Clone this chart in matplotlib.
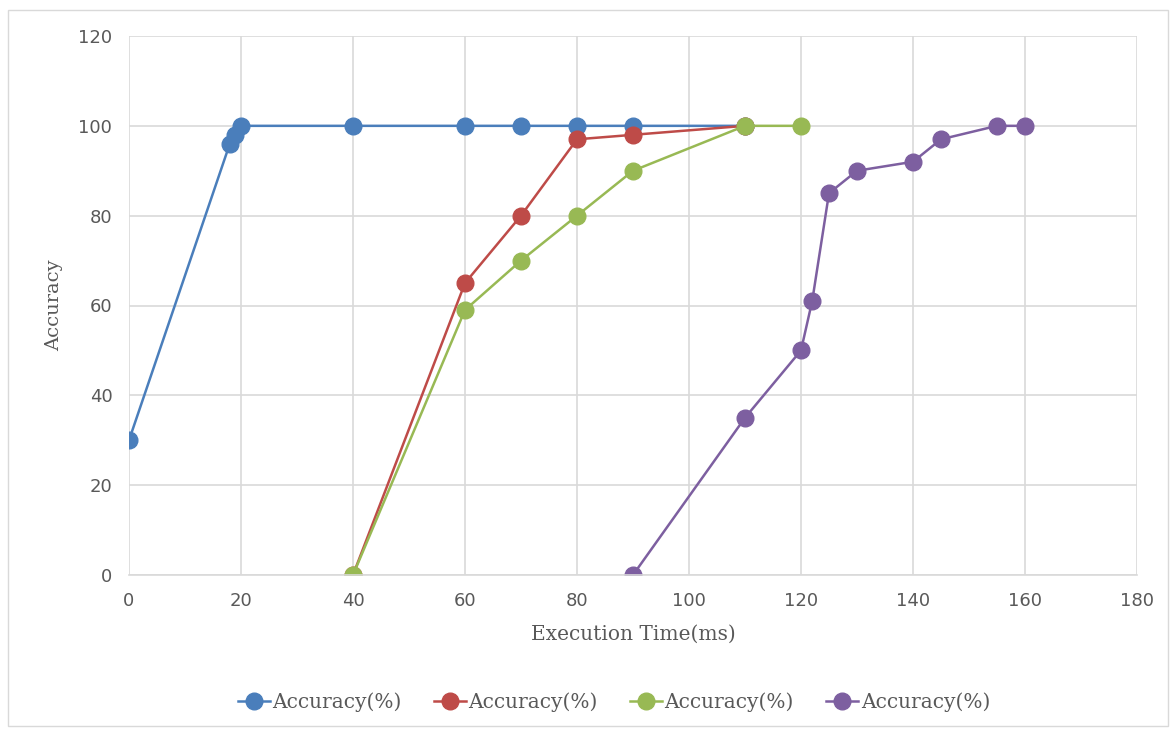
import matplotlib.pyplot as plt
from matplotlib.patches import Rectangle

# ------------------------------------------------------------
# data: execution time (ms) vs accuracy for four runs
# ------------------------------------------------------------

blue_x = [0, 18, 19, 20, 40, 60, 70, 80, 90, 110]
blue_y = [30, 96, 98, 100, 100, 100, 100, 100, 100, 100]

red_x = [40, 60, 70, 80, 90, 110]
red_y = [0, 65, 80, 97, 98, 100]

green_x = [40, 60, 70, 80, 90, 110, 120]
green_y = [0, 59, 70, 80, 90, 100, 100]

purple_x = [90, 110, 120, 122, 125, 130, 140, 145, 155, 160]
purple_y = [0, 35, 50, 61, 85, 90, 92, 97, 100, 100]

series = [
    (blue_x, blue_y, "#4a7ebb"),
    (red_x, red_y, "#be4b48"),
    (green_x, green_y, "#98b954"),
    (purple_x, purple_y, "#7d5fa0"),
]

x_ticks = list(range(0, 181, 20))
y_ticks = list(range(0, 121, 20))

TICK_COLOR = "#595959"
GRID_COLOR = "#d9d9d9"
SERIF = ["DejaVu Serif"]

fig = plt.figure(figsize=(11.76, 7.32), dpi=100)

# outer chart frame
fig.patches.append(
    Rectangle(
        (0.007, 0.008), 0.986, 0.978,
        transform=fig.transFigure,
        fill=False,
        edgecolor="#d9d9d9",
        linewidth=1.0,
    )
)

ax = fig.add_axes([129 / 1176, 1 - 575 / 732, 1008 / 1176, 539 / 732])

for xs, ys, color in series:
    ax.plot(
        xs, ys,
        color=color,
        linewidth=1.8,
        marker="o",
        markersize=12,
        label="Accuracy(%)",
    )

ax.set_xlim(0, 180)
ax.set_ylim(0, 120)
ax.set_xticks(x_ticks)
ax.set_yticks(y_ticks)
ax.grid(color=GRID_COLOR, linewidth=1.2)
ax.set_axisbelow(True)

for side in ["top", "right", "left"]:
    ax.spines[side].set_visible(False)
ax.spines["bottom"].set_color(GRID_COLOR)
ax.spines["bottom"].set_linewidth(1.2)

ax.tick_params(
    axis="both",
    length=0,
    labelsize=13,
    labelcolor=TICK_COLOR,
    pad=12,
)
for lbl in ax.get_xticklabels() + ax.get_yticklabels():
    lbl.set_clip_on(False)

ax.set_xlabel(
    "Execution Time(ms)",
    fontsize=14.5,
    color=TICK_COLOR,
    family=SERIF,
    labelpad=11,
)
ax.set_ylabel(
    "Accuracy",
    fontsize=14,
    color=TICK_COLOR,
    family=SERIF,
    labelpad=11,
)

fig.legend(
    loc="center",
    bbox_to_anchor=(0.522, 1 - 702 / 732),
    ncol=4,
    frameon=False,
    prop={"family": SERIF, "size": 14.5},
    labelcolor=TICK_COLOR,
    handlelength=1.6,
    handletextpad=0.12,
    columnspacing=1.6,
    markerscale=1.0,
)

fig.savefig("out.png", dpi=100)
